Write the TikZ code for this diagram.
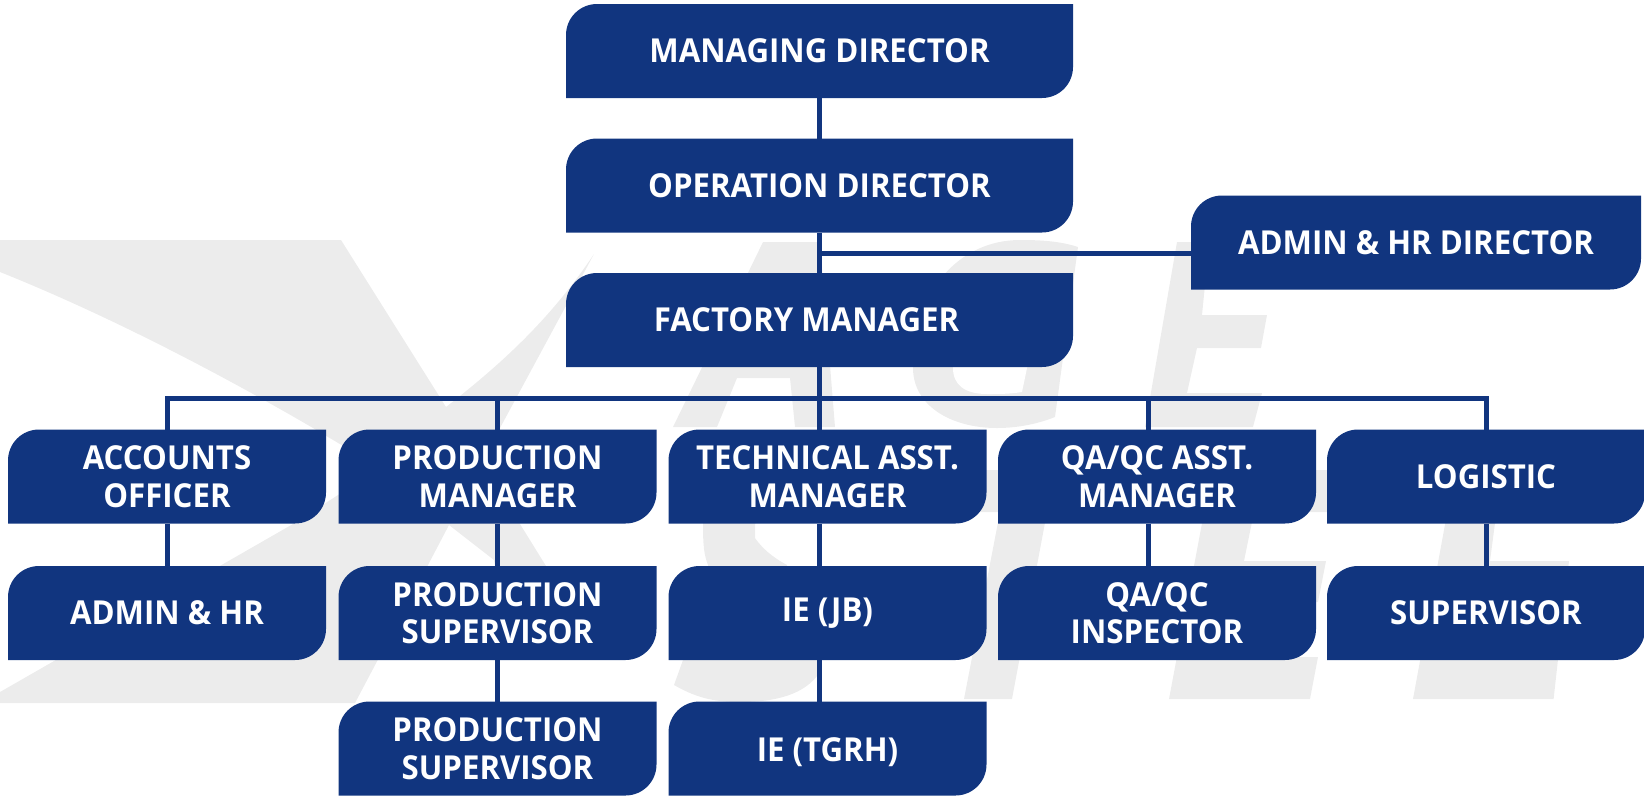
\documentclass[tikz,border=0pt]{standalone}
\usepackage{fontspec}
\setmainfont[FakeStretch=0.945]{Open Sans}
\definecolor{orgblue}{HTML}{11357F}
\definecolor{markgray}{HTML}{ECECEC}
\begin{document}
\begin{tikzpicture}[x=1pt,y=-1pt]
	\tikzstyle{watermark}=[fill=markgray]
	\tikzstyle{link}=[draw=orgblue,line width=5pt]
	\tikzstyle{orgbox}=[rectangle,inner sep=0pt,outer sep=0pt,minimum height=94pt,text=white,align=center,font=\fontsize{33}{37.5}\selectfont\bfseries,
		path picture={\fill [orgblue] [sharp corners] (path picture bounding box.south west) [rounded corners=31pt] -- (path picture bounding box.north west) [sharp corners] -- (path picture bounding box.north east) [rounded corners=31pt] -- (path picture bounding box.south east) [sharp corners] -- cycle;}]
	\tikzstyle{wide}=[orgbox,minimum width=507pt]
	\tikzstyle{unit}=[orgbox,minimum width=318pt]
	\useasboundingbox (0,0) rectangle (1644,796);
	\fill [watermark] (0,240) -- (341,240) -- (446,407) .. controls (500,365) and (550,320) .. (594,254) -- (500,428) -- (505,500) -- (520,524) -- (546,566) -- (500,600) -- (494,560) -- (449,525) -- (428,565) -- (355,703) -- (0,703) -- (0,692) -- (293,524) -- (380,468) -- (313,428) .. controls (210,368) and (100,312) .. (0,272) -- cycle;
	\fill [watermark] (763,242) -- (820,242) -- (835,427) -- (795,427) -- (790,378) -- (737,378) -- (717,427) -- (673,427) -- cycle;
	\fill [watermark] (1078,247) .. controls (1060,241) and (1040,240) .. (1020,240) .. controls (960,240) and (913,290) .. (913,368) .. controls (913,405) and (950,428) .. (997,428) .. controls (1020,428) and (1040,423) .. (1055,417) -- cycle;
	\fill [white] (1027,368) -- (1022,392) .. controls (1010,394) and (1000,394) .. (987,394) .. controls (965,394) and (953,385) .. (953,368) -- (960,340) -- (1035,340) -- cycle;
	\fill [watermark] (1177,242) -- (1220,242) -- (1205,285) -- (1202,315) -- (1267,315) -- (1261,348) -- (1197,348) -- (1187,393) -- (1262,393) -- (1253,427) -- (1145,427) -- cycle;
	\fill [watermark] (964,699) -- (1012,699) -- (1047,512) -- (1100,512) -- (1105,470) -- (950,470) -- (945,512) -- (1000,512) -- cycle;
	\fill [watermark] (1212,470) -- (1345,470) -- (1339,512) -- (1254,512) -- (1244,561) -- (1326,561) -- (1318,602) -- (1236,602) -- (1226,657) -- (1318,657) -- (1310,699) -- (1169,699) -- cycle;
	\fill [watermark] (1455,470) -- (1502,470) -- (1490,561) -- (1569,561) -- (1553.6,699) -- (1413,699) -- cycle;
	\fill [watermark] (710,480) -- (780,480) -- (755,524) -- (755,538) .. controls (762,548) and (772,557) .. (787,565) -- (787,600) -- (708,600) -- (708,565) .. controls (704,555) and (703,545) .. (703,524) -- cycle;
	\fill [watermark] (683,660) -- (674,685) .. controls (695,697) and (712,702) .. (740,702) .. controls (775,702) and (805,695) .. (820,672) -- (820,640) -- (690,640) -- cycle;
	\node (managing) at (819.5,51) [wide] {MANAGING DIRECTOR};
	\node (operation) at (819.5,185.5) [wide] {OPERATION DIRECTOR};
	\node (factory) at (819.5,320) [wide] {FACTORY MANAGER\hspace*{26pt}};
	\node (adminhrdir) at (1416,242.5) [orgbox,minimum width=450pt] {ADMIN \& HR DIRECTOR};
	\node (accounts) at (167,476.5) [unit] {ACCOUNTS\\OFFICER};
	\node (production) at (497.5,476.5) [unit] {PRODUCTION\\MANAGER};
	\node (technical) at (827.5,476.5) [unit] {TECHNICAL ASST.\\MANAGER};
	\node (qaqc) at (1157,476.5) [unit] {QA/QC ASST.\\MANAGER};
	\node (logistic) at (1486,476.5) [unit] {LOGISTIC};
	\node (adminhr) at (167,613) [unit] {ADMIN \& HR};
	\node (prodsuper) at (497.5,613) [unit] {PRODUCTION\\SUPERVISOR};
	\node (iejb) at (827.5,613) [unit] {IE (JB)};
	\node (inspector) at (1157,613) [unit] {QA/QC\\INSPECTOR};
	\node (supervisor) at (1486,613) [unit] {SUPERVISOR};
	\node (prodsupertwo) at (497.5,748.5) [unit] {PRODUCTION\\SUPERVISOR};
	\node (ietgrh) at (827.5,748.5) [unit,text height=31pt,text depth=6pt] {IE (TGRH)};
	\coordinate (bus) at (819.5,398);
	\coordinate (adminjoin) at (819.5,253);
	\coordinate (qaline) at (1148,398);
	\draw [link] (managing.south) -- (operation.north);
	\draw [link] (operation.south) -- (factory.north);
	\draw [link] (adminjoin) -- (adminjoin -| adminhrdir.west);
	\draw [link] (factory.south) -- (bus);
	\draw [link] (accounts.north) |- (bus) -| (logistic.north);
	\draw [link] (bus -| production.north) -- (production.north);
	\draw [link] (bus) -- (bus |- technical.north);
	\draw [link] (qaline) -- (qaline |- qaqc.north);
	\draw [link] (accounts.south) -- (adminhr.north);
	\draw [link] (production.south) -- (prodsuper.north);
	\draw [link] (prodsuper.south) -- (prodsupertwo.north);
	\draw [link] (bus |- technical.south) -- (bus |- iejb.north);
	\draw [link] (bus |- iejb.south) -- (bus |- ietgrh.north);
	\draw [link] (qaline |- qaqc.south) -- (qaline |- inspector.north);
	\draw [link] (logistic.south) -- (supervisor.north);
\end{tikzpicture}
\end{document}
